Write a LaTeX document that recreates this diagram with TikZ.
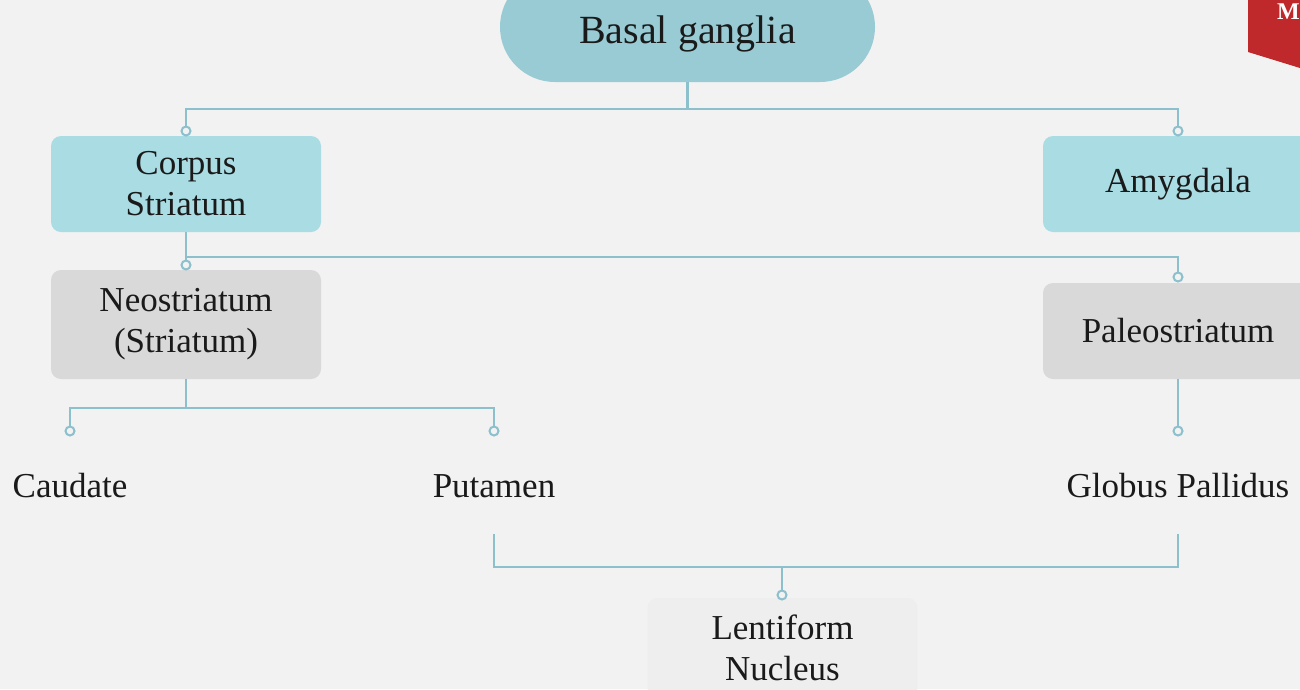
\documentclass[tikz,border=0pt]{standalone}
\usepackage{fontspec}
\setmainfont{Liberation Serif}
\definecolor{bg}{HTML}{F2F2F2}
\definecolor{head}{HTML}{99CBD5}
\definecolor{cyanbox}{HTML}{A9DCE3}
\definecolor{greybox}{HTML}{D9D9D9}
\definecolor{lightbox}{HTML}{EEEEEE}
\definecolor{conncol}{HTML}{8CC0CC}
\definecolor{badge}{HTML}{C0292B}
\definecolor{ink}{HTML}{1A1A1A}
\begin{document}
\begin{tikzpicture}[x=1pt,y=-1pt,
  box/.style={rounded corners=10pt, minimum width=270pt, text=ink, align=center,
    font=\fontsize{35}{41}\selectfont, inner sep=0pt},
  lbl/.style={text=ink, font=\fontsize{35}{41}\selectfont, anchor=base, inner sep=0pt},
  link/.style={draw=conncol, line width=2.2pt},
  dot/.style={circle, draw=conncol, line width=2pt, fill=bg, minimum size=9pt, inner sep=0pt}]
\useasboundingbox (0,0) rectangle (1300,689);
\fill[bg] (0,0) rectangle (1300,689);
\clip (0,0) rectangle (1300,689);

% boxes
\node[box, fill=head, rounded corners=55pt, minimum width=375pt, minimum height=110pt,
  text height=32pt, text depth=0pt,
  font=\fontsize{40}{46}\selectfont] (bgn) at (687.5,27) {Basal ganglia};
\node[box, fill=cyanbox, minimum height=96pt] (cs) at (186,184) {Corpus\\Striatum};
\node[box, fill=cyanbox, minimum height=96pt] (am) at (1178,184) {Amygdala};
\node[box, fill=greybox, minimum height=109pt] (ns) at (186,324.5) {Neostriatum\\(Striatum)};
\node[box, fill=greybox, minimum height=96pt] (ps) at (1178,331) {Paleostriatum};
\node[box, fill=lightbox, minimum height=100pt] (lf) at (782.5,648) {Lentiform\\Nucleus};

% plain labels
\node[lbl] (cd) at (70,497) {Caudate};
\node[lbl] (pt) at (494,497) {Putamen};
\node[lbl] (gp) at (1178,497) {Globus Pallidus};

% end dots
\node[dot] (d1) at (186,131) {};
\node[dot] (d2) at (1178,131) {};
\node[dot] (d3) at (186,265) {};
\node[dot] (d4) at (1178,277) {};
\node[dot] (d5) at (70,431) {};
\node[dot] (d6) at (494,431) {};
\node[dot] (d7) at (1178,431) {};
\node[dot] (d8) at (782,595) {};

% junction coordinates
\coordinate (j1) at (687.5,109);
\coordinate (j2) at (186,257);
\coordinate (j3) at (186,408);
\coordinate (p1) at (494,534);
\coordinate (p2) at (1178,534);
\coordinate (j4) at (782,567);

% connectors
\draw[link] (bgn.south) -- (j1);
\draw[link] (d1.north) |- (j1) -| (d2.north);
\draw[link] (cs.south) -- (d3.north);
\draw[link] (j2) -| (d4.north);
\draw[link] (ns.south) -- (j3);
\draw[link] (d5.north) |- (j3) -| (d6.north);
\draw[link] (ps.south) -- (d7.north);
\draw[link] (p1) |- (j4) -| (p2);
\draw[link] (j4) -- (d8.north);

% badge
\fill[badge] (1248,0) -- (1300,0) -- (1300,68) -- (1248,52) -- cycle;
\node[text=white, font=\bfseries\fontsize{24}{24}\selectfont, anchor=base west, inner sep=0pt]
  (mk) at (1277,19) {M};
\end{tikzpicture}
\end{document}
